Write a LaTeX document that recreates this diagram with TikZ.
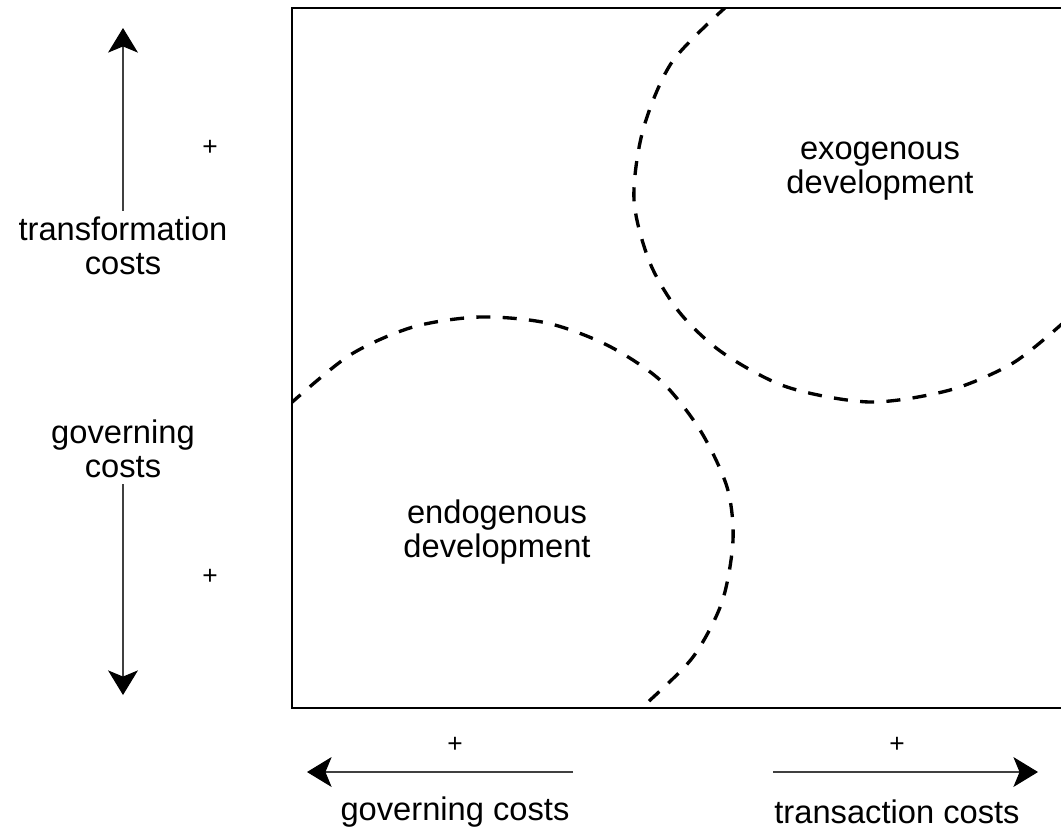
\documentclass[tikz,border=0pt]{standalone}
\usepackage{fontspec}
\setmainfont{Liberation Sans}
\usetikzlibrary{arrows.meta}

\begin{document}
\begin{tikzpicture}[x=0.02cm,y=-0.02cm,
  lbl/.style={align=center,font=\fontsize{18.6}{19.5}\selectfont},
  sgn/.style={font=\fontsize{15}{15}\selectfont},
  arr/.style={line width=0.6pt,draw=black!75,-{Stealth[length=14pt,width=17pt,inset=3.5pt,color=black]}},
  region/.style={line width=1.9pt,dash pattern=on 8pt off 7pt}]
\useasboundingbox (0,0) rectangle (1061,833);
% frame, open at the right
\draw[line width=1pt] (1061,8) -- (292,8) -- (292,708) -- (1061,708);
% the two regions
\begin{scope}
\clip (292,8) rectangle (1061,708);
\draw[region] plot[smooth] coordinates {(290,404) (350,355) (413,327) (480,317) (547,323)
  (607,345) (660,380) (700,430) (727,487) (733,540) (722,602) (693,657) (647,703) (636,712)};
\draw[region] plot[smooth] coordinates {(727,6) (672,62) (643,130) (634,200) (650,263) (680,313)
  (723,353) (787,387) (870,402) (950,390) (1013,363) (1063,323)};
\end{scope}
\node[lbl] (endo) at (497,532) {endogenous\\development};
\node[lbl] (exo) at (880,171) {exogenous\\development};
% vertical axis
\node[lbl] (trans) at (123,246) {transformation\\costs};
\node[lbl] (govl) at (123,449) {governing\\costs};
\coordinate (upTip) at (123,28);
\coordinate (downTip) at (123,695);
\draw[arr] (trans.north) -- (upTip);
\draw[arr] (govl.south) -- (downTip);
\node[sgn] (plusUp) at (210,148) {+};
\node[sgn] (plusDown) at (210,577) {+};
% horizontal axis
\node[lbl] (govb) at (455,812) {governing costs};
\node[lbl] (tranb) at (897,812) {transaction costs};
\coordinate (gcStart) at (573,772);
\coordinate (gcTip) at (307,772);
\coordinate (tcStart) at (773,772);
\coordinate (tcTip) at (1038,772);
\draw[arr] (gcStart) -- (gcTip);
\draw[arr] (tcStart) -- (tcTip);
\node[sgn] (plusLeft) at (455,745) {+};
\node[sgn] (plusRight) at (897,745) {+};
\end{tikzpicture}
\end{document}
